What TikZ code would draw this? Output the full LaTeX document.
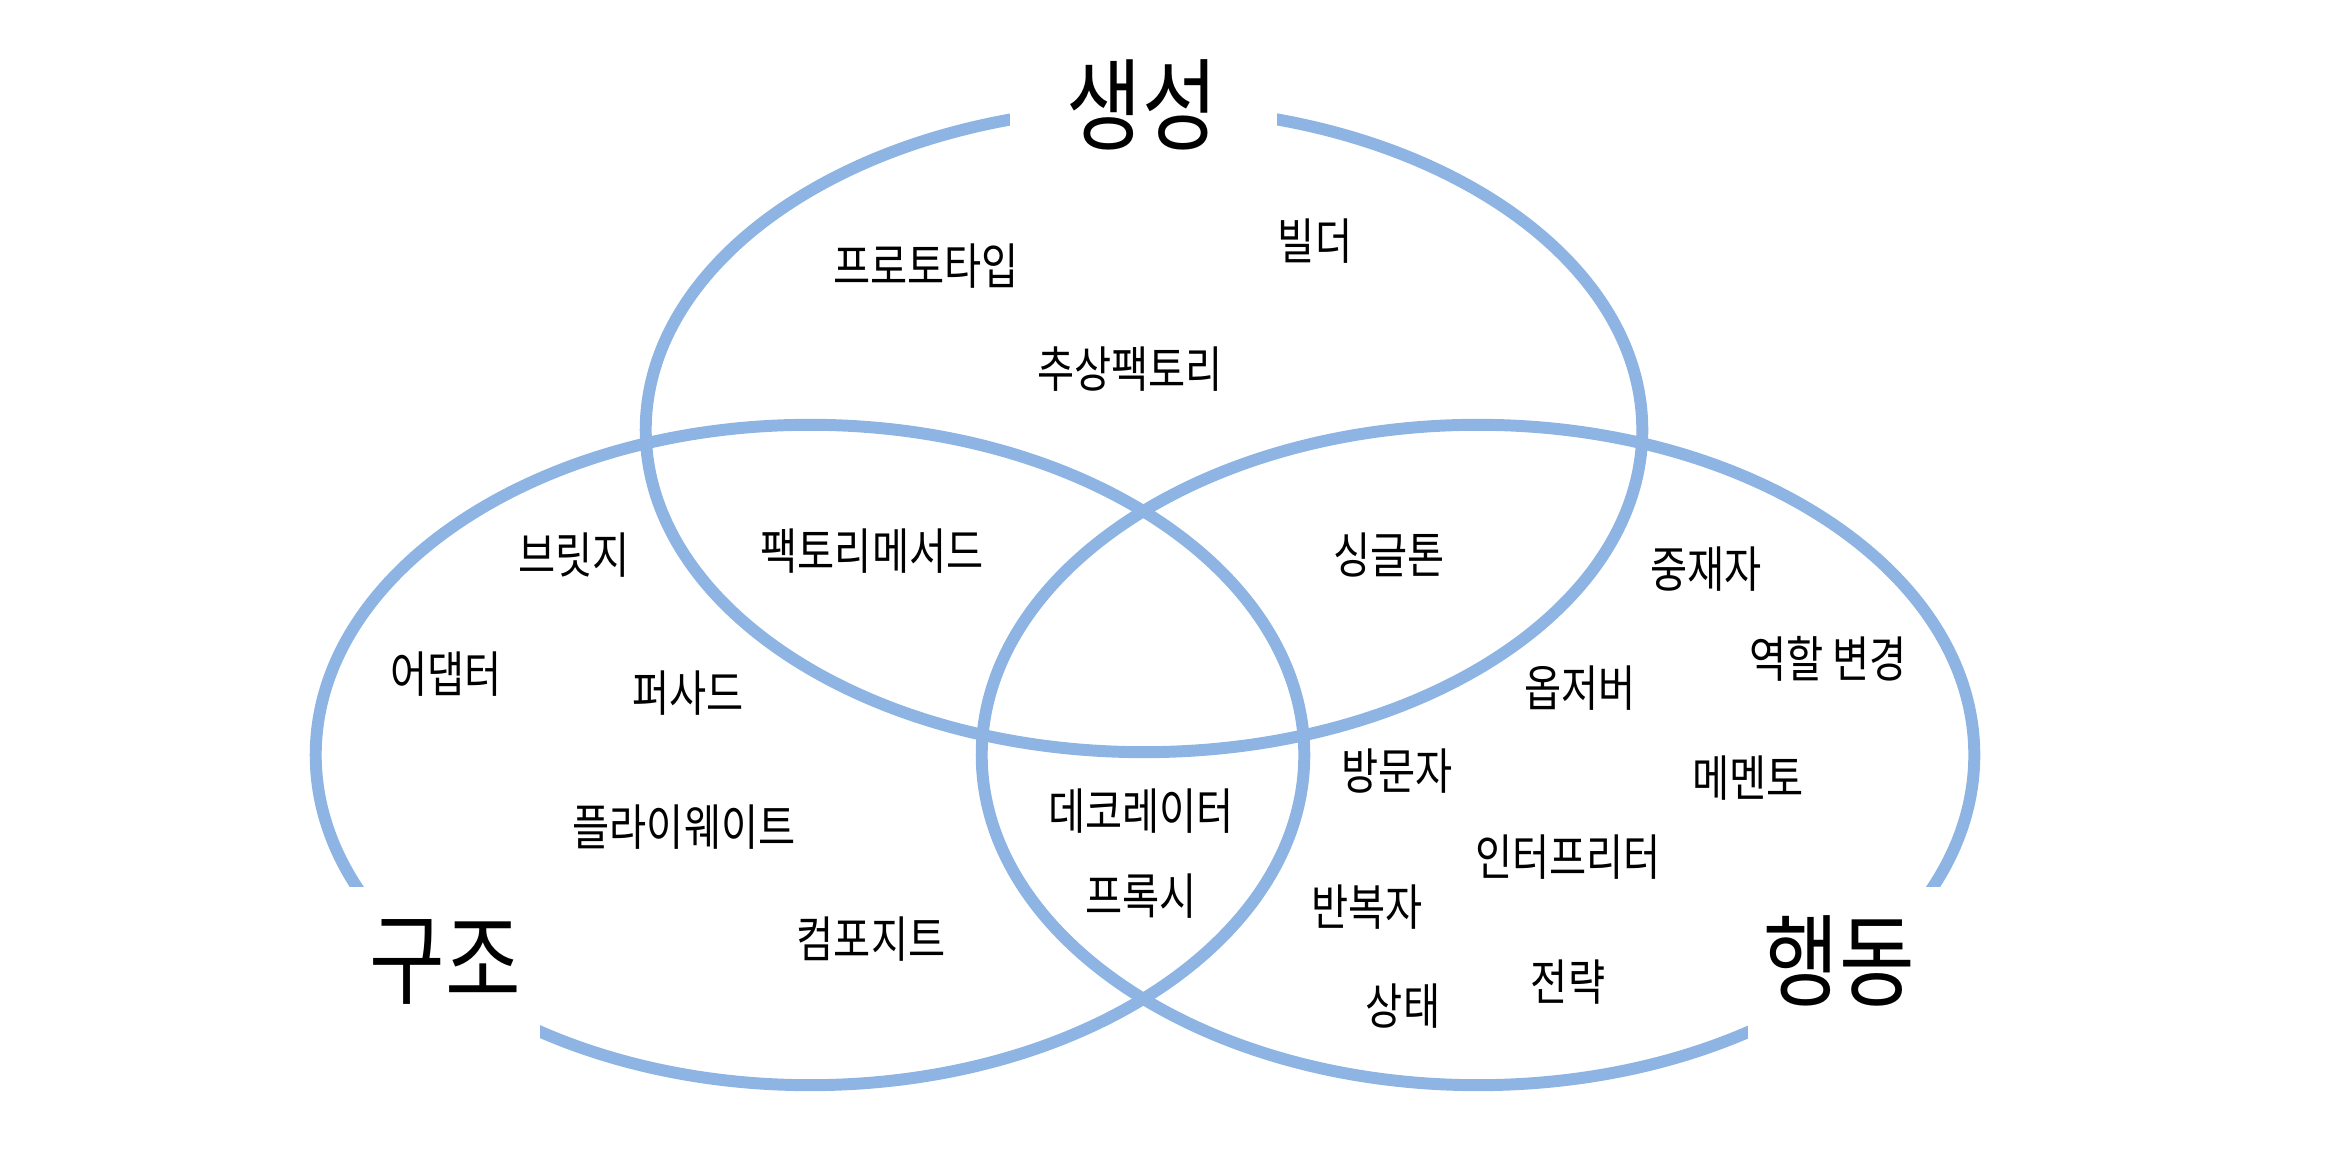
\documentclass[tikz,border=0pt]{standalone}
\usepackage{fontspec}
\setmainfont{Noto Sans CJK KR}[FakeStretch=0.82]
\usepackage{xcolor}
\usepackage{tikz}
\usetikzlibrary{
positioning
}

\definecolor{ringblue}{RGB}{141,180,226}

\begin{document}
\begin{tikzpicture}[
x=0.01cm, y=-0.01cm,
ring/.style={
draw=ringblue,
line width=3.4pt
},
mask/.style={fill=white},
entry/.style={
font=\fontsize{14pt}{17pt}\selectfont,
inner sep=0pt
},
heading/.style={
font=\fontsize{28.5pt}{34pt}\selectfont,
inner sep=0pt
}
]

\useasboundingbox (0,0) rectangle (2330,1168);

\draw[ring] (1144,430) ellipse [x radius=4.98cm, y radius=3.22cm];
\draw[ring] (810,755) ellipse [x radius=4.94cm, y radius=3.30cm];
\draw[ring] (1478,755) ellipse [x radius=4.96cm, y radius=3.30cm];

\fill[mask] (1010,30) rectangle (1277,175);
\fill[mask] (300,887) rectangle (540,1110);
\fill[mask] (1748,887) rectangle (1990,1110);

\node[heading] (creational) at (1142,105) {생성};
\node[heading] (structural) at (445,962) {구조};
\node[heading] (behavioral) at (1839,961) {행동};

\node[entry] (prototype) at (926,266) {프로토타입};
\node[entry] (builder) at (1315,241) {빌더};
\node[entry] (absfactory) at (1130,369) {추상팩토리};
\node[entry] (factorymethod) at (872,551) {팩토리메서드};
\node[entry] (singleton) at (1389,555) {싱글톤};

\node[entry] (bridge) at (574,555) {브릿지};
\node[entry] (adapter) at (446,674) {어댑터};
\node[entry] (facade) at (688,693) {퍼사드};
\node[entry] (flyweight) at (684,827) {플라이웨이트};
\node[entry] (composite) at (871,939) {컴포지트};
\node[entry] (decorator) at (1141,811) {데코레이터};
\node[entry] (proxy) at (1141,896) {프록시};

\node[entry] (mediator) at (1706,569) {중재자};
\node[entry] (role) at (1828,659) {역할 변경};
\node[entry] (observer) at (1580,688) {옵저버};
\node[entry] (visitor) at (1397,771) {방문자};
\node[entry] (memento) at (1748,778) {메멘토};
\node[entry] (interpreter) at (1568,857) {인터프리터};
\node[entry] (iterator) at (1367,907) {반복자};
\node[entry] (strategy) at (1568,982) {전략};
\node[entry] (state) at (1403,1006) {상태};

\end{tikzpicture}
\end{document}
